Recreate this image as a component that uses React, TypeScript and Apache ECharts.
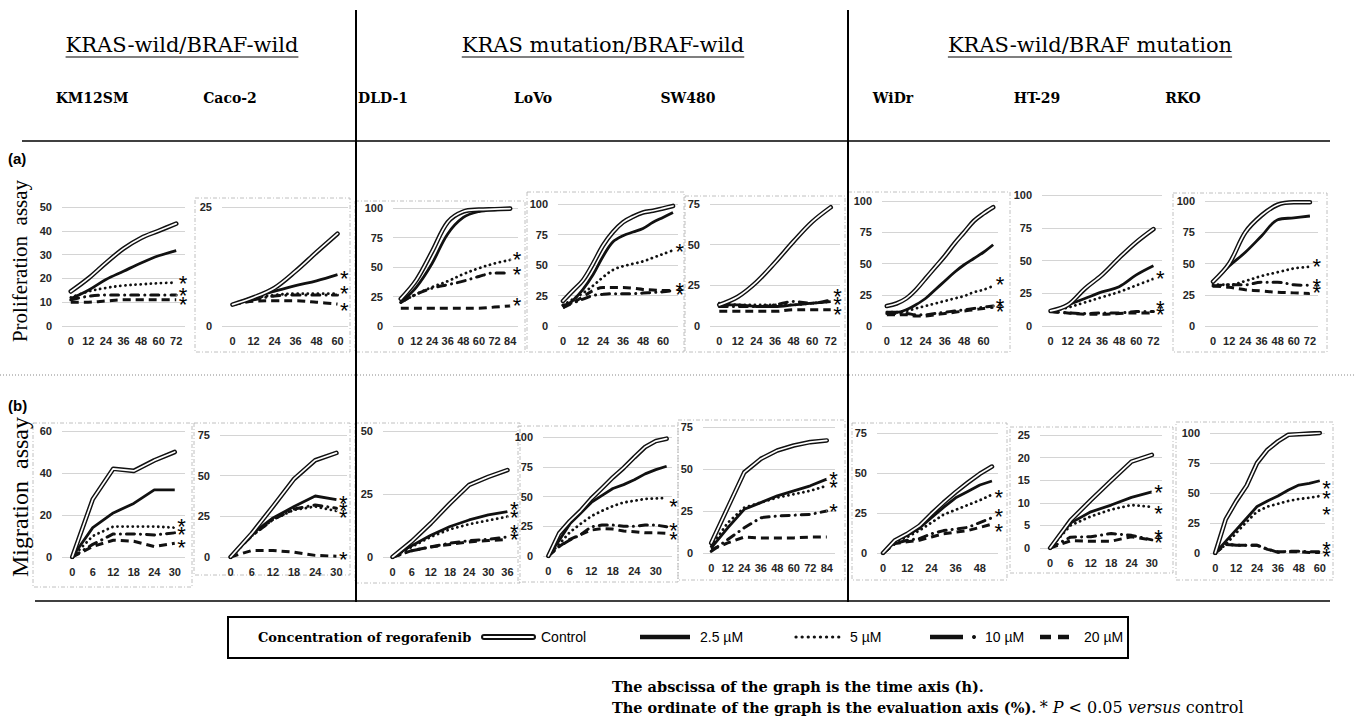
import React, { useEffect, useRef } from 'react';
import * as echarts from 'echarts';

// ---------------- DATA ----------------
const groupTitles = ['KRAS-wild/BRAF-wild', 'KRAS mutation/BRAF-wild', 'KRAS-wild/BRAF mutation'];
const cellLines = ['KM12SM', 'Caco-2', 'DLD-1', 'LoVo', 'SW480', 'WiDr', 'HT-29', 'RKO'];
const legendNames = ['Control', '2.5 µM', '5 µM', '10 µM', '20 µM'];

// (a) Proliferation assay
const aKM12SM_t = [0, 12, 24, 36, 48, 60, 72];
const aKM12SM_ctrl = [14.5, 20, 26.5, 32.5, 37, 40, 43];
const aKM12SM_c25 = [11.5, 15, 19.5, 23, 26.5, 29.5, 31.7];
const aKM12SM_c5 = [12, 14.5, 16, 17, 17.5, 18, 18.2];
const aKM12SM_c10 = [11, 12.5, 13, 13, 13, 13, 13];
const aKM12SM_c20 = [10, 10, 10.5, 11, 11, 11, 11];
const aKM12SM_star = [18, 13, 9];

const aCaco2_t = [0, 12, 24, 36, 48, 60];
const aCaco2_ctrl = [4.5, 6, 8, 11.5, 15.5, 19.4];
const aCaco2_c25 = [4.5, 6, 7.3, 8.5, 9.5, 10.8];
const aCaco2_c5 = [4.5, 5.8, 6.5, 6.8, 6.8, 6.8];
const aCaco2_c10 = [4.5, 5.5, 6.3, 6.5, 6.5, 6.5];
const aCaco2_c20 = [4.5, 5.2, 5.3, 5.3, 5, 4.6];
const aCaco2_star = [10, 6.8, 3.3];

const aDLD1_t = [0, 12, 24, 36, 48, 60, 72, 84];
const aDLD1_ctrl = [23, 39, 63, 88, 97, 98.6, 99, 99.5];
const aDLD1_c25 = [20, 33, 53, 78, 92, 97, 98.5, 99];
const aDLD1_c5 = [20, 27, 33, 38, 44, 49, 53, 56];
const aDLD1_c10 = [20, 27, 32, 35, 38, 42, 45, 45];
const aDLD1_c20 = [15, 15, 15, 15, 15, 15, 16, 17];
const aDLD1_star = [56, 44, 17];

const aLoVo_t = [0, 6, 12, 18, 24, 30, 36, 42, 48, 54, 60, 66];
const aLoVo_ctrl = [20.5, 29, 37.5, 51, 66, 77, 85, 89.6, 93, 94.5, 96.4, 98.4];
const aLoVo_c25 = [15, 21, 30, 42, 57, 69, 74, 77, 80, 85, 89, 93];
const aLoVo_c5 = [17, 22, 27, 33, 40, 46, 49, 51, 53, 56, 59, 62];
const aLoVo_c10 = [17, 19, 22, 25, 26, 26.5, 26.5, 26.5, 27, 27.5, 28, 29];
const aLoVo_c20 = [15, 19, 24, 29, 31.5, 31.5, 31.5, 31, 30, 29.5, 29, 29];
const aLoVo_star = [61, 29, 26];

const aSW480_t = [0, 12, 24, 36, 48, 60, 72];
const aSW480_ctrl = [13, 18, 27, 39, 52, 64, 73];
const aSW480_c25 = [13, 13, 12, 12, 13, 14, 15];
const aSW480_c5 = [14, 13, 13, 13, 13, 14, 15];
const aSW480_c10 = [12, 12, 12, 13, 15, 14, 16];
const aSW480_c20 = [9, 9, 9, 9, 10, 10, 10];
const aSW480_star = [18, 13, 7];

const aWiDr_t = [0, 6, 12, 18, 24, 30, 36, 42, 48, 54, 60, 66];
const aWiDr_ctrl = [16, 18, 22, 29, 38, 47, 56, 66, 75, 84, 90, 95];
const aWiDr_c25 = [11, 11, 13, 17, 22, 29, 36, 43, 49, 54, 59, 65];
const aWiDr_c5 = [11, 11, 12, 14, 16, 18, 20, 22, 24, 27, 29, 32];
const aWiDr_c10 = [10, 10, 10, 9, 9, 10, 11, 12, 13, 14, 15, 16];
const aWiDr_c20 = [9, 9, 9, 8, 8, 9, 10, 11, 12, 13, 14, 15];
const aWiDr_star = [33, 16, 12];

const aHT29_t = [0, 12, 24, 36, 48, 60, 72];
const aHT29_ctrl = [11.5, 16, 28.5, 39, 52, 64, 74];
const aHT29_c25 = [11, 16, 21, 26, 30, 39, 46];
const aHT29_c5 = [11, 14, 18, 22, 26, 31, 36];
const aHT29_c10 = [11, 10, 9.5, 10, 10, 11, 11];
const aHT29_c20 = [11, 10, 9, 9, 9.5, 10, 10];
const aHT29_star = [36, 13, 9];

const aRKO_t = [0, 12, 24, 36, 48, 60, 72];
const aRKO_ctrl = [35.5, 50, 75, 88.5, 97, 99, 99];
const aRKO_c25 = [35, 48, 59, 72, 85, 86.5, 88];
const aRKO_c5 = [33, 33, 36, 40, 43, 46, 47.5];
const aRKO_c10 = [32, 33, 33, 35, 35, 33, 32.5];
const aRKO_c20 = [32, 31, 29, 28, 27, 26.5, 26];
const aRKO_star = [47.5, 32, 27];

// (b) Migration assay
const bKM12SM_t = [0, 6, 12, 18, 24, 30];
const bKM12SM_ctrl = [0, 27.5, 42, 41, 46, 50];
const bKM12SM_c25 = [0, 14, 21, 25.5, 32, 32];
const bKM12SM_c5 = [0, 10, 14.5, 14.5, 14.5, 14];
const bKM12SM_c10 = [0, 6, 11, 11, 10.5, 11.5];
const bKM12SM_c20 = [0, 5, 8, 7.5, 5, 6.5];
const bKM12SM_star = [14.5, 10.5, 4.5];

const bCaco2_t = [0, 6, 12, 18, 24, 30];
const bCaco2_ctrl = [0, 14.5, 31, 48, 59.5, 64];
const bCaco2_c25 = [0, 14, 24, 31, 37.5, 35.3];
const bCaco2_c5 = [0, 13, 23, 29, 31, 28.3];
const bCaco2_c10 = [0, 13, 23, 29.5, 32, 30];
const bCaco2_c20 = [0, 4, 4, 3, 1, 0.5];
const bCaco2_star = [33, 28.5, 24, -1.5];

const bDLD1_t = [0, 6, 12, 18, 24, 30, 36];
const bDLD1_ctrl = [0, 6.2, 13.4, 21.3, 28.6, 31.8, 34.5];
const bDLD1_c25 = [0, 4.5, 8.6, 12.1, 14.7, 16.7, 18];
const bDLD1_c5 = [0, 4, 8, 11, 13, 14.5, 16];
const bDLD1_c10 = [0, 2.5, 4, 5.5, 6.5, 7, 8];
const bDLD1_c20 = [0, 2.5, 4, 5, 6, 6.5, 7];
const bDLD1_star = [18.7, 15.8, 9.9, 6.8];

const bLoVo_t = [0, 3, 6, 9, 12, 15, 18, 21, 24, 27, 30, 33];
const bLoVo_ctrl = [0, 19, 29.3, 38, 48.3, 57, 66, 74, 83, 91.6, 96.6, 98.6];
const bLoVo_c25 = [0, 13, 27, 36, 45, 51, 56.7, 60, 64, 69, 72.6, 75.4];
const bLoVo_c5 = [0, 10, 20, 27, 33.5, 38, 42, 45, 46.4, 48, 48.3, 49];
const bLoVo_c10 = [0, 8, 13.4, 18, 24.6, 26, 26, 25, 25, 26, 26, 24.6];
const bLoVo_c20 = [0, 8, 14, 18, 21.8, 23, 22.6, 21, 20.4, 19.5, 19.5, 19];
const bLoVo_star = [41.3, 21.8, 14];

const bSW480_t = [0, 12, 24, 36, 48, 60, 72, 84];
const bSW480_ctrl = [6, 27, 48, 56, 61, 64, 66, 67];
const bSW480_c25 = [3, 15, 26, 30, 34, 37, 40, 44];
const bSW480_c5 = [4, 18, 27, 30, 33, 35, 37, 40];
const bSW480_c10 = [1, 8, 15, 21, 22, 22.5, 23, 25];
const bSW480_c20 = [2, 6, 9.5, 9, 9, 9, 9.5, 9.5];
const bSW480_star = [44, 39, 25];

const bWiDr_t = [0, 6, 12, 18, 24, 30, 36, 42, 48, 54];
const bWiDr_ctrl = [0, 8, 12, 17, 24.5, 31.5, 38, 44, 49.5, 54];
const bWiDr_c25 = [0, 8, 11, 15.5, 22, 28.5, 34.5, 38.5, 42.5, 45];
const bWiDr_c5 = [0, 7, 10, 14, 19, 24, 27, 30, 33, 36.5];
const bWiDr_c10 = [0, 6, 8, 9, 12, 14, 15, 16, 19, 22];
const bWiDr_c20 = [0, 6, 7, 8, 10, 12, 13, 14, 16, 18];
const bWiDr_star = [35, 22.8, 13.5];

const bHT29_t = [0, 6, 12, 18, 24, 30];
const bHT29_ctrl = [0, 6.1, 10.6, 14.9, 19.1, 20.6];
const bHT29_c25 = [0, 5.5, 8, 9.5, 11.2, 12.4];
const bHT29_c5 = [0, 5, 7, 8.5, 9.5, 9.1];
const bHT29_c10 = [0, 2.4, 2.5, 3.2, 2.8, 1.8];
const bHT29_c20 = [0, 1.6, 1.5, 1.5, 2.5, 1.8];
const bHT29_star = [12.3, 7.6, 2.4, 1.3];

const bRKO_t = [0, 6, 12, 18, 24, 30, 36, 42, 48, 54, 60];
const bRKO_ctrl = [0, 28, 43, 56, 75, 86, 93, 98.5, 99, 99.5, 100];
const bRKO_c25 = [0, 9.7, 19.3, 29, 38.7, 43.4, 47.5, 52.5, 56.6, 58, 60.2];
const bRKO_c5 = [0, 7, 16.6, 26, 34.5, 38.7, 41, 43.4, 45, 46, 47.5];
const bRKO_c10 = [0, 7.7, 6.4, 6.4, 6.4, 3.3, 0.5, 1.5, 1.5, 1, 1];
const bRKO_c20 = [0, 7, 6.5, 6.5, 6.5, 3, 1, 1, 1, 0.5, 0.5];
const bRKO_star = [53.9, 45.6, 31.8, 3.3, -2.8];

// axis ticks
const aYMax = [50, 25, 100, 100, 75, 100, 100, 100];
const aYStep = [10, 25, 25, 25, 25, 25, 25, 25];
const aXLabelEvery = [12, 12, 12, 12, 12, 12, 12, 12];
const bYMax = [60, 75, 50, 100, 75, 75, 25, 100];
const bYStep = [20, 25, 25, 25, 25, 25, 5, 25];
const bXLabelEvery = [6, 6, 6, 6, 12, 12, 6, 12];

const aSeries = [
  [aKM12SM_t, aKM12SM_ctrl, aKM12SM_c25, aKM12SM_c5, aKM12SM_c10, aKM12SM_c20, aKM12SM_star],
  [aCaco2_t, aCaco2_ctrl, aCaco2_c25, aCaco2_c5, aCaco2_c10, aCaco2_c20, aCaco2_star],
  [aDLD1_t, aDLD1_ctrl, aDLD1_c25, aDLD1_c5, aDLD1_c10, aDLD1_c20, aDLD1_star],
  [aLoVo_t, aLoVo_ctrl, aLoVo_c25, aLoVo_c5, aLoVo_c10, aLoVo_c20, aLoVo_star],
  [aSW480_t, aSW480_ctrl, aSW480_c25, aSW480_c5, aSW480_c10, aSW480_c20, aSW480_star],
  [aWiDr_t, aWiDr_ctrl, aWiDr_c25, aWiDr_c5, aWiDr_c10, aWiDr_c20, aWiDr_star],
  [aHT29_t, aHT29_ctrl, aHT29_c25, aHT29_c5, aHT29_c10, aHT29_c20, aHT29_star],
  [aRKO_t, aRKO_ctrl, aRKO_c25, aRKO_c5, aRKO_c10, aRKO_c20, aRKO_star],
];
const bSeries = [
  [bKM12SM_t, bKM12SM_ctrl, bKM12SM_c25, bKM12SM_c5, bKM12SM_c10, bKM12SM_c20, bKM12SM_star],
  [bCaco2_t, bCaco2_ctrl, bCaco2_c25, bCaco2_c5, bCaco2_c10, bCaco2_c20, bCaco2_star],
  [bDLD1_t, bDLD1_ctrl, bDLD1_c25, bDLD1_c5, bDLD1_c10, bDLD1_c20, bDLD1_star],
  [bLoVo_t, bLoVo_ctrl, bLoVo_c25, bLoVo_c5, bLoVo_c10, bLoVo_c20, bLoVo_star],
  [bSW480_t, bSW480_ctrl, bSW480_c25, bSW480_c5, bSW480_c10, bSW480_c20, bSW480_star],
  [bWiDr_t, bWiDr_ctrl, bWiDr_c25, bWiDr_c5, bWiDr_c10, bWiDr_c20, bWiDr_star],
  [bHT29_t, bHT29_ctrl, bHT29_c25, bHT29_c5, bHT29_c10, bHT29_c20, bHT29_star],
  [bRKO_t, bRKO_ctrl, bRKO_c25, bRKO_c5, bRKO_c10, bRKO_c20, bRKO_star],
];

// ---------------- LAYOUT ----------------
// plot areas [x0, x1, y0, y1]
const aGridBox = [
  [62, 185, 207, 326], [222, 348, 207, 326], [393, 518, 208, 326], [558, 678, 204, 326],
  [710, 840, 204, 326], [882, 998, 201, 326], [1042, 1162, 195, 326], [1205, 1318, 201, 326],
];
const bGridBox = [
  [62, 185, 431, 557], [220, 347, 435, 557], [383, 517, 431, 557], [543, 672, 437, 556],
  [703, 835, 427, 553], [877, 998, 433, 553], [1040, 1162, 435, 548], [1210, 1325, 433, 553],
];
// dash-dot frames [x, y, w, h]
const frames = [
  [195, 198, 155, 154], [355, 201, 170, 151], [527, 192, 157, 160], [685, 196, 160, 156],
  [848, 192, 162, 160], [1173, 193, 154, 159],
  [33, 423, 159, 164], [194, 423, 156, 152], [355, 423, 165, 160], [518, 426, 160, 156],
  [678, 420, 167, 160], [852, 423, 155, 157], [1010, 427, 163, 146], [1176, 422, 157, 158],
];
const titleCenters = [182, 603, 1090];
const cellCenters = [92, 230, 383, 533, 688, 893, 1037, 1183];

const SERIF = '"Liberation Serif", "DejaVu Serif", serif';
const HEAVY_SERIF = '"DejaVu Serif", "Liberation Serif", serif';
const SANS = '"Liberation Sans", Arial, sans-serif';
const INK = '#111';

function measure(text: string, font: string): number {
  const c = document.createElement('canvas').getContext('2d');
  if (!c) return text.length * 10;
  c.font = font;
  return c.measureText(text).width;
}

function buildOption() {
  const grid: any[] = [];
  const xAxis: any[] = [];
  const yAxis: any[] = [];
  const series: any[] = [];
  const panels: any[] = [];
  aSeries.forEach((d, i) => panels.push({ d, box: aGridBox[i], yMax: aYMax[i], yStep: aYStep[i], every: aXLabelEvery[i], smooth: 0.35 }));
  bSeries.forEach((d, i) => panels.push({ d, box: bGridBox[i], yMax: bYMax[i], yStep: bYStep[i], every: bXLabelEvery[i], smooth: false }));

  const axisFont = { fontSize: 11, fontWeight: 'bold', color: '#262626', fontFamily: SANS };
  panels.forEach((p, k) => {
    const [t, ctrl, c25, c5, c10, c20, star] = p.d as number[][];
    const [x0, x1, y0, y1] = p.box;
    grid.push({ left: x0, top: y0, width: x1 - x0, height: y1 - y0 });
    const step = t[1] - t[0];
    xAxis.push({
      type: 'category', gridIndex: k, data: t.map(String), boundaryGap: true,
      axisLine: { show: false }, axisTick: { show: false }, splitLine: { show: false },
      axisLabel: { ...axisFont, interval: Math.round(p.every / step) - 1, margin: 9 },
    });
    yAxis.push({
      type: 'value', gridIndex: k, min: 0, max: p.yMax, interval: p.yStep,
      axisLine: { show: false }, axisTick: { show: false },
      splitLine: { lineStyle: { color: '#d4d4d4', width: 1 } },
      axisLabel: { ...axisFont, margin: 10 },
    });
    const base = { type: 'line', xAxisIndex: k, yAxisIndex: k, symbol: 'none', smooth: p.smooth, silent: true, z: 2 };
    series.push({ ...base, name: legendNames[0], data: ctrl, lineStyle: { color: INK, width: 4.6, join: 'round', cap: 'round' } });
    series.push({ ...base, name: legendNames[0] + ' ', data: ctrl, lineStyle: { color: '#fff', width: 1.7, join: 'round', cap: 'round' }, z: 3 });
    series.push({ ...base, name: legendNames[1], data: c25, lineStyle: { color: INK, width: 2.8, join: 'round' } });
    series.push({ ...base, name: legendNames[2], data: c5, lineStyle: { color: INK, width: 2.8, type: [0.1, 5], cap: 'round' } });
    series.push({ ...base, name: legendNames[3], data: c10, lineStyle: { color: INK, width: 3, type: [8, 6, 0.1, 6], cap: 'round' } });
    series.push({ ...base, name: legendNames[4], data: c20, lineStyle: { color: INK, width: 3, type: [8, 5] } });
    series.push({
      type: 'scatter', xAxisIndex: k, yAxisIndex: k, silent: true, clip: false, z: 4,
      data: star.map((v) => [t.length - 1, v]), symbol: 'circle', symbolSize: 1, itemStyle: { color: '#fff', opacity: 1 },
      labelLayout: { hideOverlap: false },
      label: {
        show: true, formatter: '*', position: 'right', distance: 2, offset: [0, 7], opacity: 1,
        fontSize: 22, lineHeight: 8, padding: 0, fontWeight: 'normal', color: '#000', fontFamily: SANS,
      },
    });
  });

  const g: any[] = [];
  // group titles with underline
  const titleFont = `21px ${HEAVY_SERIF}`;
  groupTitles.forEach((s, i) => {
    const w = measure(s, titleFont);
    g.push({ type: 'text', x: titleCenters[i], y: 45, style: { text: s, font: titleFont, fill: '#000', align: 'center', verticalAlign: 'middle', textAlign: 'center', textVerticalAlign: 'middle' } });
    g.push({ type: 'line', shape: { x1: titleCenters[i] - w / 2, y1: 57, x2: titleCenters[i] + w / 2, y2: 57 }, style: { stroke: '#000', lineWidth: 1.2 } });
  });
  cellLines.forEach((s, i) => {
    g.push({ type: 'text', x: cellCenters[i], y: 98, style: { text: s, font: `bold 14px ${HEAVY_SERIF}`, fill: '#000', align: 'center', verticalAlign: 'middle', textAlign: 'center', textVerticalAlign: 'middle' } });
  });
  // separators
  g.push({ type: 'line', shape: { x1: 356, y1: 10, x2: 356, y2: 602 }, style: { stroke: '#000', lineWidth: 2 } });
  g.push({ type: 'line', shape: { x1: 848, y1: 10, x2: 848, y2: 602 }, style: { stroke: '#000', lineWidth: 2 } });
  g.push({ type: 'line', shape: { x1: 22, y1: 141, x2: 1330, y2: 141 }, style: { stroke: '#000', lineWidth: 1.5 } });
  g.push({ type: 'line', shape: { x1: 35, y1: 601, x2: 1330, y2: 601 }, style: { stroke: '#000', lineWidth: 1.5 } });
  g.push({ type: 'line', shape: { x1: 0, y1: 375, x2: 1356, y2: 375 }, style: { stroke: '#888', lineWidth: 1, lineDash: [1, 2] } });
  // panel frames
  frames.forEach((f) => {
    g.push({ type: 'rect', shape: { x: f[0], y: f[1], width: f[2], height: f[3] }, style: { fill: 'none', stroke: '#b0b0b0', lineWidth: 0.8, lineDash: [4, 2, 1, 2] }, z: -1 });
  });
  // row labels
  g.push({ type: 'text', x: 8, y: 158, style: { text: '(a)', font: `bold 15px ${SANS}`, fill: '#000', verticalAlign: 'middle', textVerticalAlign: 'middle' } });
  g.push({ type: 'text', x: 8, y: 405, style: { text: '(b)', font: `bold 15px ${SANS}`, fill: '#000', verticalAlign: 'middle', textVerticalAlign: 'middle' } });
  g.push({ type: 'text', x: 20, y: 261, rotation: Math.PI / 2, style: { text: 'Proliferation  assay', font: `21px ${SERIF}`, fill: '#000', align: 'center', verticalAlign: 'middle', textAlign: 'center', textVerticalAlign: 'middle' } });
  g.push({ type: 'text', x: 20, y: 497, rotation: Math.PI / 2, style: { text: 'Migration  assay', font: `24px ${SERIF}`, fill: '#000', align: 'center', verticalAlign: 'middle', textAlign: 'center', textVerticalAlign: 'middle' } });

  // legend
  const ly = 637;
  g.push({ type: 'rect', shape: { x: 228, y: 617, width: 900, height: 41 }, style: { fill: 'none', stroke: '#000', lineWidth: 2 } });
  g.push({ type: 'text', x: 258, y: ly, style: { text: 'Concentration of regorafenib', font: `bold 13px ${HEAVY_SERIF}`, fill: '#000', verticalAlign: 'middle', textVerticalAlign: 'middle' } });
  g.push({ type: 'line', shape: { x1: 484, y1: ly, x2: 533, y2: ly }, style: { stroke: INK, lineWidth: 6, lineCap: 'round' } });
  g.push({ type: 'line', shape: { x1: 484, y1: ly, x2: 533, y2: ly }, style: { stroke: '#fff', lineWidth: 2, lineCap: 'round' } });
  g.push({ type: 'line', shape: { x1: 640, y1: ly, x2: 690, y2: ly }, style: { stroke: INK, lineWidth: 4.5 } });
  g.push({ type: 'line', shape: { x1: 796, y1: ly, x2: 840, y2: ly }, style: { stroke: INK, lineWidth: 3.2, lineDash: [0.1, 6], lineCap: 'round' } });
  g.push({ type: 'line', shape: { x1: 930, y1: ly, x2: 963, y2: ly }, style: { stroke: INK, lineWidth: 4.5 } });
  g.push({ type: 'circle', shape: { cx: 974, cy: ly, r: 2 }, style: { fill: INK } });
  g.push({ type: 'line', shape: { x1: 1040, y1: ly, x2: 1076, y2: ly }, style: { stroke: INK, lineWidth: 4.5, lineDash: [11, 7] } });
  const legX = [541, 700, 850, 985, 1084];
  legendNames.forEach((s, i) => {
    g.push({ type: 'text', x: legX[i], y: ly, style: { text: s, font: `14px ${SANS}`, fill: '#000', verticalAlign: 'middle', textVerticalAlign: 'middle' } });
  });
  // footnotes
  g.push({ type: 'text', x: 612, y: 686, style: { text: 'The abscissa of the graph is the time axis (h).', font: `bold 14.5px ${HEAVY_SERIF}`, fill: '#000', verticalAlign: 'middle', textVerticalAlign: 'middle' } });
  g.push({
    type: 'text', x: 612, y: 707, style: {
      text: '{n|The ordinate of the graph is the evaluation axis (%).} {s|* }{i|P}{s| < 0.05 }{i|versus}{s| control}',
      fill: '#000', verticalAlign: 'middle', textVerticalAlign: 'middle',
      rich: {
        n: { fontFamily: HEAVY_SERIF, fontSize: 14.5, fontWeight: 'bold' },
        s: { fontFamily: HEAVY_SERIF, fontSize: 16 },
        i: { fontFamily: HEAVY_SERIF, fontSize: 16, fontStyle: 'italic' },
      },
    },
  });

  return { animation: false, backgroundColor: '#fff', grid, xAxis, yAxis, series, graphic: g };
}

export default function App() {
  const ref = useRef<HTMLDivElement>(null);
  useEffect(() => {
    if (!ref.current) return;
    const chart = echarts.init(ref.current, undefined, { renderer: 'svg' });
    chart.setOption(buildOption() as any);
    return () => chart.dispose();
  }, []);
  return <div ref={ref} style={{ position: 'fixed', left: 0, top: 0, width: 1356, height: 720, background: '#fff' }} />;
}
